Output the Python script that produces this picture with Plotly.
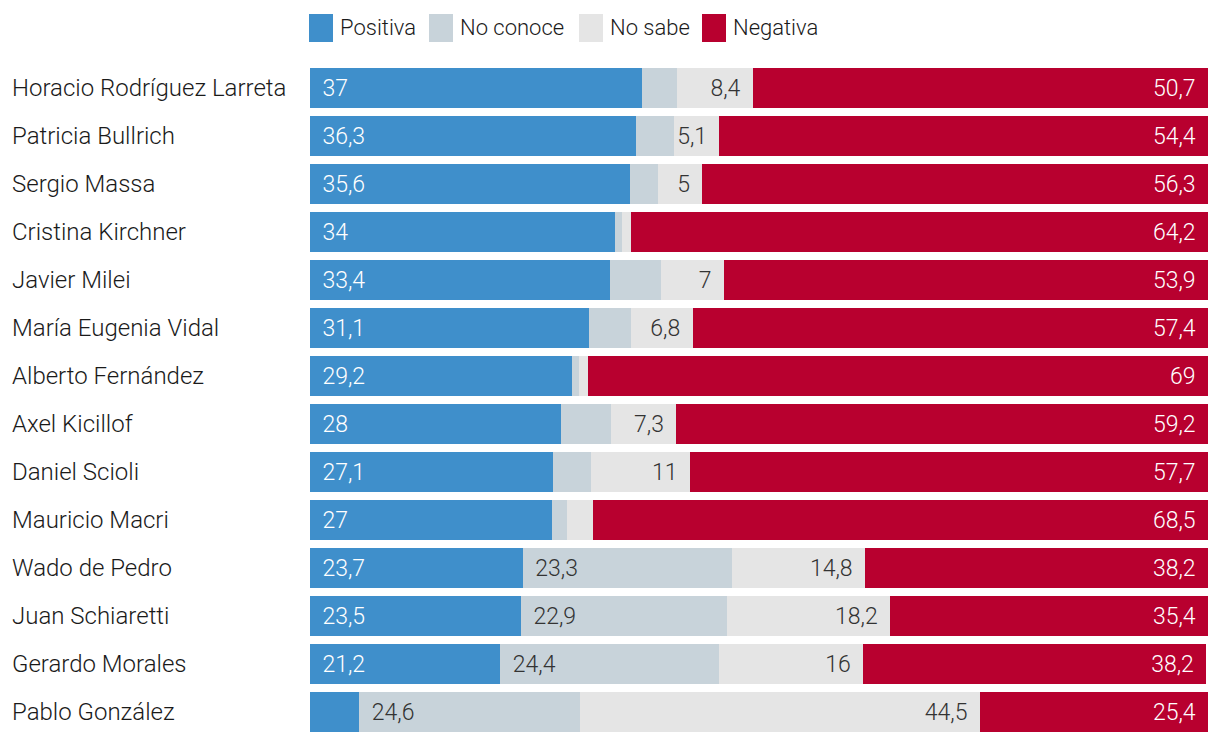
import plotly.graph_objects as go

categories = ["Horacio Rodríguez Larreta", "Patricia Bullrich", "Sergio Massa", "Cristina Kirchner",
              "Javier Milei", "María Eugenia Vidal", "Alberto Fernández", "Axel Kicillof",
              "Daniel Scioli", "Mauricio Macri", "Wado de Pedro", "Juan Schiaretti",
              "Gerardo Morales", "Pablo González"]
positiva = [37, 36.3, 35.6, 34, 33.4, 31.1, 29.2, 28, 27.1, 27, 23.7, 23.5, 21.2, 5.5]
no_conoce = [3.9, 4.2, 3.1, 0.7, 5.7, 4.7, 0.7, 5.5, 4.2, 1.6, 23.3, 22.9, 24.4, 24.6]
no_sabe = [8.4, 5.1, 5, 1.1, 7, 6.8, 1.1, 7.3, 11, 2.9, 14.8, 18.2, 16, 44.5]
negativa = [50.7, 54.4, 56.3, 64.2, 53.9, 57.4, 69, 59.2, 57.7, 68.5, 38.2, 35.4, 38.2, 25.4]

series = [
    ("Positiva", positiva, "#3f8fcb", "white", "start", 10),
    ("No conoce", no_conoce, "#c8d3da", "#333333", "start", 10),
    ("No sabe", no_sabe, "#e5e5e5", "#333333", "end", 4),
    ("Negativa", negativa, "#b8002f", "white", "end", 10),
]

FONT = "Roboto"
WEIGHT = 300
PAD = "\u2009\u2009"


def fmt(v):
    return f"{v:g}".replace(".", ",")


fig = go.Figure()
for name, vals, color, tcolor, anchor, thr in series:
    texts = []
    for v in vals:
        if v > thr:
            t = fmt(v)
            texts.append(PAD + t if anchor == "start" else t + PAD)
        else:
            texts.append("")
    fig.add_trace(go.Bar(
        y=categories, x=vals, name=name, orientation="h",
        marker=dict(color=color, line=dict(width=0)),
        text=texts, textposition="inside", insidetextanchor=anchor,
        textangle=0, constraintext="none",
        insidetextfont=dict(family=FONT, size=23, color=tcolor, weight=WEIGHT),
        showlegend=False,
    ))

# page has an 8px body margin; figure sized to fill the visible window
OFF = 8
W, H = 1220 - 2 * OFF, 744 - 2 * OFF
L, R, T, B = 302, 4, 56, 0
pw, ph = W - L - R, H - T - B


def px(xp):
    # xp: screen pixel
    return (xp - OFF - L) / pw


def py(yp):
    return (H - B - (yp - OFF)) / ph


annotations = []
for c in categories:
    annotations.append(dict(x=px(10), y=c, xref="paper", yref="y", text=c, showarrow=False,
                            xanchor="left", yanchor="middle",
                            font=dict(family=FONT, size=24, color="#1a1a1a", weight=WEIGHT)))

legend_sq = [309, 429, 579, 702]
shapes = []
for (name, vals, color, *_), x0 in zip(series, legend_sq):
    shapes.append(dict(type="rect", xref="paper", yref="paper", x0=px(x0), x1=px(x0 + 24),
                       y0=py(42), y1=py(14), fillcolor=color, line=dict(width=0)))
    annotations.append(dict(x=px(x0 + 29), y=py(28), xref="paper", yref="paper", text=name,
                            showarrow=False, xanchor="left", yanchor="middle",
                            font=dict(family=FONT, size=22, color="#1a1a1a", weight=WEIGHT)))

fig.update_layout(
    width=W, height=H, barmode="stack", bargap=8 / 48,
    margin=dict(l=L, r=R, t=T, b=B),
    plot_bgcolor="white", paper_bgcolor="white",
    xaxis=dict(range=[0, 100], visible=False, fixedrange=True),
    yaxis=dict(autorange="reversed", showticklabels=False, showgrid=False, zeroline=False,
               ticks="", showline=False),
    annotations=annotations, shapes=shapes,
    font=dict(family=FONT),
)

fig.write_html("out.html")
